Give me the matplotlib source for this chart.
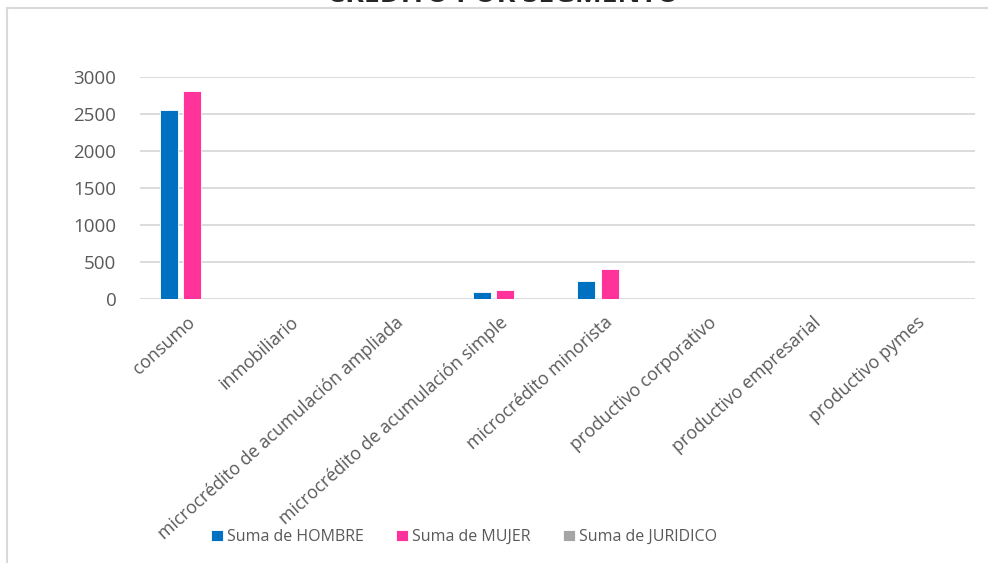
import numpy as np
import matplotlib
matplotlib.use("Agg")
import matplotlib.pyplot as plt
from matplotlib.lines import Line2D

# datos
segmentos = ["consumo", "inmobiliario", "microcrédito de acumulación ampliada",
             "microcrédito de acumulación simple", "microcrédito minorista",
             "productivo corporativo", "productivo empresarial", "productivo pymes"]
hombre = [2550, 0, 0, 100, 243, 0, 0, 0]
mujer = [2810, 0, 0, 125, 410, 0, 0, 0]
juridico = [0, 0, 0, 0, 0, 0, 0, 0]
series = ["Suma de HOMBRE", "Suma de MUJER", "Suma de JURIDICO"]
colores = ["#0070C0", "#FF3399", "#A5A5A5"]
yticks = [0, 500, 1000, 1500, 2000, 2500, 3000]

plt.rcParams['font.family'] = ['Open Sans', 'DejaVu Sans']
W, H = 988, 563
fig = plt.figure(figsize=(W / 100, H / 100), dpi=100)
ax = fig.add_axes([140 / W, 1 - 299 / H, 835 / W, 222 / H])

x = np.arange(len(segmentos))
ancho = 0.172
desp = 0.225
for i, (vals, nombre) in enumerate(zip([hombre, mujer, juridico], series)):
    ax.bar(x + (i - 1) * desp, vals, width=ancho, color=colores[i],
           edgecolor="white", linewidth=0.6, label=nombre, zorder=3)

ax.set_xlim(-0.5, len(segmentos) - 0.5)
ax.set_ylim(0, 3000)
ax.set_yticks(yticks)
ax.set_yticklabels([str(v) for v in yticks], fontsize=13.5, color="#595959")
ax.set_xticks(x)
ax.set_xticklabels(segmentos, rotation=42, ha="right", va="center",
                   rotation_mode="anchor", fontsize=12.8, color="#595959")
ax.tick_params(axis="both", length=0)
ax.tick_params(axis="x", pad=15)
ax.tick_params(axis="y", pad=17)
ax.grid(axis="y", color="#D9D9D9", linewidth=1.3, zorder=0)
for s in ax.spines.values():
    s.set_visible(False)

# titulo (recortado por el borde superior, como en la captura)
fig.text(503 / W, 1 - 2.5 / H, "CRÉDITO POR SEGMENTO", ha="center", va="baseline",
         fontsize=20.5, fontweight="bold", color="#262626")

# borde del area del grafico
fig.add_artist(Line2D([7 / W, 7 / W], [0, 1 - 7.5 / H], color="#D9D9D9", linewidth=1.5))
fig.add_artist(Line2D([7 / W, 1], [1 - 7.5 / H, 1 - 7.5 / H], color="#D9D9D9", linewidth=1.5))

handles, labels = ax.get_legend_handles_labels()
fig.legend(handles, labels, loc="center", bbox_to_anchor=(464 / W, 1 - 537 / H),
           ncol=3, frameon=False, fontsize=11.5, handlelength=0.75, handleheight=0.75,
           handletextpad=0.25, columnspacing=2.0, labelcolor="#595959")

fig.savefig("out.png", dpi=100)
